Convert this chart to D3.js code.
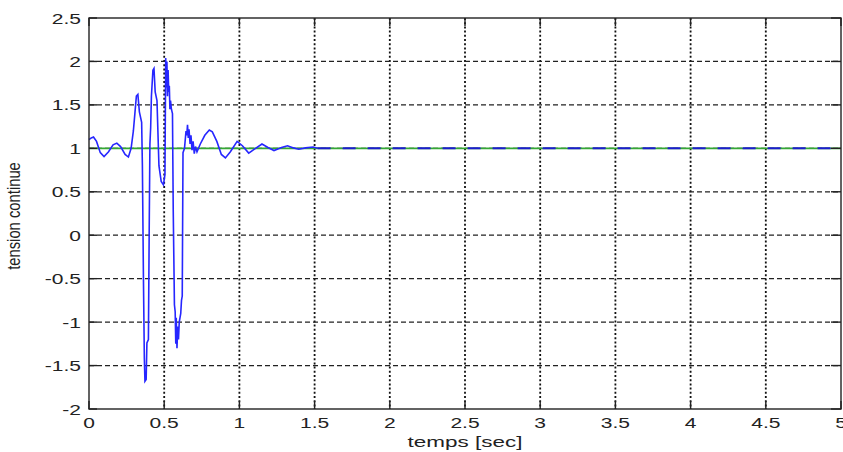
<!DOCTYPE html>
<html><head><meta charset="utf-8">
<script src="https://cdn.jsdelivr.net/npm/d3@7"></script>
<style>body{margin:0;background:#fff}svg{display:block}text{font-family:"Liberation Sans",Arial,sans-serif;fill:#222}</style>
</head><body>
<svg id="c" width="843" height="452"></svg>
<script>
// time (s)
const timeS = [0.000,0.015,0.030,0.050,0.075,0.100,0.130,0.160,0.185,0.210,0.240,0.262,0.280,0.295,0.305,0.315,0.325,0.335,0.350,0.355,0.362,0.368,0.372,0.380,0.385,0.395,0.400,0.405,0.410,0.415,0.425,0.432,0.440,0.452,0.465,0.480,0.495,0.505,0.510,0.515,0.518,0.522,0.526,0.530,0.534,0.538,0.542,0.548,0.555,0.560,0.568,0.573,0.577,0.580,0.585,0.590,0.595,0.600,0.610,0.615,0.620,0.625,0.635,0.645,0.650,0.655,0.660,0.665,0.672,0.678,0.685,0.692,0.700,0.708,0.718,0.740,0.770,0.800,0.820,0.850,0.880,0.907,0.940,0.985,1.020,1.062,1.100,1.150,1.190,1.230,1.280,1.320,1.360,1.395,1.440,1.490,1.520];
// tension continue
const tension = [1.10,1.12,1.13,1.08,0.95,0.905,0.96,1.04,1.06,1.02,0.93,0.90,1.00,1.20,1.40,1.60,1.62,1.42,1.30,0.80,-0.50,-1.42,-1.68,-1.66,-1.24,-1.20,0.00,1.05,1.24,1.60,1.90,1.92,1.65,1.55,0.80,0.62,0.58,0.70,2.04,1.70,2.00,1.60,1.90,1.65,1.72,1.45,1.55,1.45,1.40,0.30,-0.80,-0.88,-1.25,-0.95,-1.30,-1.05,-1.20,-1.00,-0.90,-0.75,-0.70,0.95,1.00,1.20,1.15,1.27,1.12,1.22,1.05,1.15,0.98,1.08,0.94,1.02,0.96,1.05,1.15,1.21,1.19,1.08,0.93,0.89,0.96,1.08,1.03,0.945,0.99,1.05,1.01,0.975,1.01,1.03,1.005,0.99,1.005,1.015,1.00];
// steady tail
const tailTime = [1.52, 5];
const tailValue = [1, 1];
// reference
const refTime = [0, 5];
const refValue = [1, 1];
const xTicks = [0,0.5,1,1.5,2,2.5,3,3.5,4,4.5,5];
const xTickLabels = ["0","0.5","1","1.5","2","2.5","3","3.5","4","4.5","5"];
const yTicks = [-2,-1.5,-1,-0.5,0,0.5,1,1.5,2,2.5];
const yTickLabels = ["-2","-1.5","-1","-0.5","0","0.5","1","1.5","2","2.5"];

const L=89, R=841, T=18, B=409;
const svg = d3.select("#c");
const x = d3.scaleLinear().domain([0,5]).range([L,R]);
const y = d3.scaleLinear().domain([-2,2.5]).range([B,T]);
const SX = 1.45;

// grid
svg.append("g").selectAll("line").data(xTicks.filter(t=>t>0&&t<5)).join("line")
  .attr("x1",d=>x(d)).attr("x2",d=>x(d)).attr("y1",T).attr("y2",B)
  .attr("stroke","#111").attr("stroke-width",1.8).attr("stroke-dasharray","2,2.2");
svg.append("g").selectAll("line").data(yTicks.filter(t=>t>-2&&t<2.5)).join("line")
  .attr("x1",L).attr("x2",R).attr("y1",d=>y(d)).attr("y2",d=>y(d))
  .attr("stroke","#222").attr("stroke-width",1.2).attr("stroke-dasharray","5,3");

// reference line
const line = d3.line().x(d=>x(d[0])).y(d=>y(d[1]));
svg.append("path").datum(refTime.map((t,i)=>[t,refValue[i]])).attr("d",line)
  .attr("fill","none").attr("stroke","#35a835").attr("stroke-width",1.8);
// signal
svg.append("path").datum(timeS.map((t,i)=>[t,tension[i]])).attr("d",line)
  .attr("fill","none").attr("stroke","#2626ff").attr("stroke-width",1.6).attr("stroke-linejoin","miter");
svg.append("path").datum(tailTime.map((t,i)=>[t,tailValue[i]])).attr("d",line)
  .attr("fill","none").attr("stroke","#1c1cd0").attr("stroke-width",2).attr("stroke-dasharray","13,12");

// axes box
svg.append("rect").attr("x",L).attr("y",T).attr("width",R-L).attr("height",B-T)
  .attr("fill","none").attr("stroke","#222").attr("stroke-width",1.4);
// ticks (inside, all sides)
const tk = svg.append("g").attr("stroke","#222").attr("stroke-width",1.4);
xTicks.forEach(t=>{
  tk.append("line").attr("x1",x(t)).attr("x2",x(t)).attr("y1",B).attr("y2",B-8);
  tk.append("line").attr("x1",x(t)).attr("x2",x(t)).attr("y1",T).attr("y2",T+8);
});
yTicks.forEach(t=>{
  tk.append("line").attr("x1",L).attr("x2",L+8).attr("y1",y(t)).attr("y2",y(t));
  tk.append("line").attr("x1",R).attr("x2",R-10).attr("y1",y(t)).attr("y2",y(t));
});

// tick labels
svg.append("g").selectAll("text").data(xTicks).join("text")
  .attr("transform",d=>`translate(${x(d)},428) scale(${SX},1)`)
  .attr("text-anchor","middle").attr("font-size",14.5).text((d,i)=>xTickLabels[i]);
svg.append("g").selectAll("text").data(yTicks).join("text")
  .attr("transform",d=>`translate(${L-8},${y(d)+5.5}) scale(${SX},1)`)
  .attr("text-anchor","end").attr("font-size",14.5).text((d,i)=>yTickLabels[i]);

// axis titles
svg.append("text").attr("transform",`translate(${x(2.5)},447) scale(1.55,1)`)
  .attr("text-anchor","middle").attr("font-size",14.5).text("temps [sec]");
svg.append("text").attr("transform",`translate(20,216) rotate(-90) scale(1,1.2)`)
  .attr("text-anchor","middle").attr("font-size",14.8).text("tension continue");
</script>
</body></html>
